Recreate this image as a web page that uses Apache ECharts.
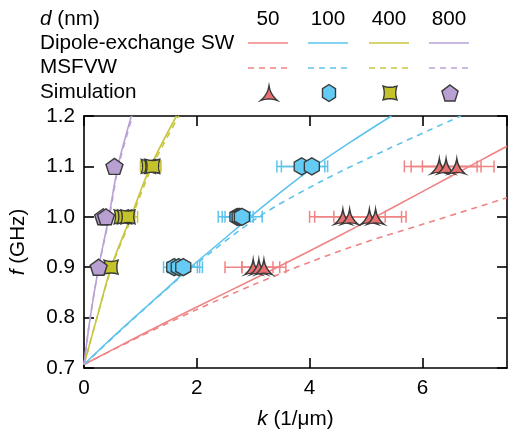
<!DOCTYPE html>
<html><head><meta charset="utf-8">
<script src="https://cdn.jsdelivr.net/npm/echarts@6/dist/echarts.min.js"></script>
<style>html,body{margin:0;padding:0;background:#fff}#c{width:508px;height:435px}</style>
</head><body><div id="c"></div>
<script>
// ---------- data ----------
const thickness = ['50', '100', '400', '800'];
const rowLabels = ['Dipole-exchange SW', 'MSFVW', 'Simulation'];
const yTicks = [0.7, 0.8, 0.9, 1.0, 1.1, 1.2];

// Dipole-exchange SW (solid)  [k (1/um), f (GHz)]
const dsw50 = [[0,0.707],[1,0.765],[2,0.821],[3,0.876],[4,0.932],[5,0.99],[6,1.05],[7,1.11],[7.5,1.14]];
const dsw100 = [[0,0.707],[0.45,0.755],[0.9,0.801],[1.4,0.851],[1.89,0.9],[2.4,0.948],[2.95,1.0],[3.5,1.05],[4.09,1.1],[4.75,1.15],[5.45,1.2]];
const dsw400 = [[0,0.707],[0.23,0.8],[0.48,0.9],[0.83,1.0],[1.18,1.1],[1.64,1.2]];
const dsw800 = [[0,0.707],[0.11,0.8],[0.26,0.9],[0.44,1.0],[0.6,1.1],[0.84,1.2]];
// MSFVW (dashed)
const msf50 = [[0,0.707],[1,0.763],[2,0.816],[3,0.865],[4,0.91],[5,0.95],[6,0.985],[7,1.02],[7.5,1.038]];
const msf100 = [[0,0.707],[0.9,0.8],[1.92,0.9],[3.1,1.0],[4.2,1.07],[5.4,1.135],[6.68,1.2]];
const msf400 = [[0,0.707],[0.23,0.8],[0.49,0.9],[0.85,1.0],[1.21,1.1],[1.68,1.2]];
const msf800 = [[0,0.707],[0.11,0.8],[0.26,0.9],[0.45,1.0],[0.61,1.1],[0.86,1.2]];

// Simulation: f, k, k error low, k error high
const sim50F  = [0.9, 0.9, 0.9, 1.0, 1.0, 1.0, 1.0, 1.1, 1.1, 1.1];
const sim50K  = [3.0, 3.1, 3.19, 4.59, 4.71, 5.06, 5.17, 6.3, 6.42, 6.61];
const sim50Lo = [2.5, 2.8, 2.8, 4.0, 4.09, 4.43, 4.71, 5.68, 5.8, 6.0];
const sim50Hi = [3.47, 3.35, 3.58, 5.18, 5.34, 5.71, 5.63, 6.97, 7.04, 7.27];

const sim100F  = [0.9, 0.9, 0.9, 1.0, 1.0, 1.0, 1.1, 1.1];
const sim100K  = [1.6, 1.68, 1.76, 2.72, 2.76, 2.8, 3.86, 4.04];
const sim100Lo = [1.41, 1.48, 1.48, 2.38, 2.45, 2.5, 3.42, 3.5];
const sim100Hi = [2.01, 2.1, 2.05, 2.95, 3.0, 3.16, 4.27, 4.32];

const sim400F  = [0.9, 1.0, 1.0, 1.0, 1.1, 1.1, 1.1];
const sim400K  = [0.48, 0.66, 0.72, 0.78, 1.14, 1.2, 1.22];
const sim400Lo = [0.4, 0.58, 0.6, 0.62, 1.0, 1.05, 1.1];
const sim400Hi = [0.56, 0.85, 0.9, 0.95, 1.3, 1.36, 1.36];

const sim800F  = [0.9, 1.0, 1.0, 1.1];
const sim800K  = [0.26, 0.34, 0.39, 0.54];
const sim800Lo = [0.22, 0.3, 0.34, 0.5];
const sim800Hi = [0.3, 0.38, 0.44, 0.58];

// ---------- styles ----------
const FONT = 'Liberation Sans, Arial, Helvetica, sans-serif';
const FS = 20.7;
const lineColors = ['#f08383', '#5ec3ec', '#c7c63e', '#b9a2d6'];
const fillColors = ['#e86f70', '#63cbf4', '#c4c42a', '#b8a0d2'];
const symPaths = [
  'M50,0 Q58,62 100,100 Q50,80 0,100 Q42,62 50,0 Z',
  'M50,0 L93.3,25 L93.3,75 L50,100 L6.7,75 L6.7,25 Z',
  'M0,0 Q50,18 100,0 Q82,50 100,100 Q50,82 0,100 Q18,50 0,0 Z',
  'M50,0 L97.6,34.5 L79.4,90.5 L20.6,90.5 L2.4,34.5 Z'
];
const symSizes = [[17,15],[15,17],[14,14],[17,16]];

// convert a simple M/L/Q path (0..100 box) into polygon points for the legend icons
function pathToPoints(p, cx, cy, w, h) {
  const tok = p.match(/[MLQZ]|-?[\d.]+/g);
  const pts = []; let i = 0, cur = [0,0], cmd = '';
  const num = () => parseFloat(tok[i++]);
  while (i < tok.length) {
    if (/[MLQZ]/.test(tok[i])) cmd = tok[i++];
    if (cmd === 'Z') break;
    if (cmd === 'M' || cmd === 'L') { cur = [num(), num()]; pts.push(cur); }
    else if (cmd === 'Q') {
      const c = [num(), num()], e = [num(), num()];
      for (let t = 1; t <= 8; t++) {
        const s = t / 8;
        pts.push([(1-s)*(1-s)*cur[0] + 2*(1-s)*s*c[0] + s*s*e[0], (1-s)*(1-s)*cur[1] + 2*(1-s)*s*c[1] + s*s*e[1]]);
      }
      cur = e;
    }
  }
  let minY = Infinity, maxY = -Infinity;
  pts.forEach(q => { minY = Math.min(minY, q[1]); maxY = Math.max(maxY, q[1]); });
  return pts.map(q => [cx - w/2 + q[0]/100*w, cy - h/2 + (q[1]-minY)/(maxY-minY)*h]);
}

const solid = [dsw50, dsw100, dsw400, dsw800];
const dashed = [msf50, msf100, msf400, msf800];
const simF = [sim50F, sim100F, sim400F, sim800F];
const simK = [sim50K, sim100K, sim400K, sim800K];
const simLo = [sim50Lo, sim100Lo, sim400Lo, sim800Lo];
const simHi = [sim50Hi, sim100Hi, sim400Hi, sim800Hi];

const series = [];
for (let i = 0; i < 4; i++) {
  series.push({type:'line', data: solid[i], smooth: 0.3, showSymbol:false, clip:true,
    lineStyle:{color:lineColors[i], width:1.6}, z:2});
  series.push({type:'line', data: dashed[i], smooth: 0.3, showSymbol:false, clip:true,
    lineStyle:{color:lineColors[i], width:1.6, type:[6,5]}, z:2});
}
for (let i = 0; i < 4; i++) {
  const d = simF[i].map((f, j) => [simLo[i][j], simHi[i][j], f]);
  const col = lineColors[i];
  series.push({type:'custom', data:d, encode:{x:[0,1], y:2}, z:3, clip:false,
    renderItem: function (params, api) {
      const y = api.value(2);
      const p1 = api.coord([api.value(0), y]);
      const p2 = api.coord([api.value(1), y]);
      const h = 6;
      const st = {stroke: col, lineWidth: 1.5, fill: null};
      return {type:'group', children:[
        {type:'line', shape:{x1:p1[0], y1:p1[1], x2:p2[0], y2:p2[1]}, style:st},
        {type:'line', shape:{x1:p1[0], y1:p1[1]-h, x2:p1[0], y2:p1[1]+h}, style:st},
        {type:'line', shape:{x1:p2[0], y1:p2[1]-h, x2:p2[0], y2:p2[1]+h}, style:st}
      ]};
    }});
}
for (let i = 0; i < 4; i++) {
  const d = simF[i].map((f, j) => [simK[i][j], f]);
  series.push({type:'scatter', data:d, symbol:'path://' + symPaths[i], symbolSize:symSizes[i],
    z:4, itemStyle:{color:fillColors[i], borderColor:'#3a3a3a', borderWidth:1.4, opacity:1}});
}

// ---------- legend (graphic) ----------
const graphic = [];
const txt = (text, x, y, align) => ({type:'text', x:x, y:y, style:{text:text, fill:'#000',
  font: FS + 'px ' + FONT, fontSize: FS, fontFamily: FONT,
  align: align || 'left', verticalAlign:'middle', textAlign: align || 'left', textVerticalAlign:'middle',
  rich:{i:{fontStyle:'italic', fontSize:FS, fontFamily:FONT, fill:'#000'}}}});
graphic.push(txt('{i|d} (nm)', 40, 19));
const rowY = [43, 67, 92];
rowLabels.forEach((t, r) => graphic.push(txt(t, 40, rowY[r])));
const colX = [268, 328, 389, 449];
thickness.forEach((t, i) => {
  graphic.push(txt(t, colX[i], 19, 'center'));
  graphic.push({type:'line', shape:{x1:colX[i]-20, y1:rowY[0], x2:colX[i]+20, y2:rowY[0]},
    style:{stroke:lineColors[i], lineWidth:1.6}});
  graphic.push({type:'line', shape:{x1:colX[i]-20, y1:rowY[1]+1, x2:colX[i]+20, y2:rowY[1]+1},
    style:{stroke:lineColors[i], lineWidth:1.6, lineDash:[6,5]}});
  const s = symSizes[i];
  graphic.push({type:'polygon', shape:{points: pathToPoints(symPaths[i], colX[i]+1, rowY[2]+1, s[0], s[1])},
    style:{fill:fillColors[i], stroke:'#3a3a3a', lineWidth:1.4}});
});

// ---------- axes ----------
const axLine = {show:true, onZero:false, lineStyle:{color:'#000', width:1.6}};
const axTick = {show:true, inside:true, length:10, lineStyle:{color:'#000', width:1.6}};
const lbl = {fontSize:FS, color:'#000', fontFamily:FONT};
const option = {
  animation:false,
  backgroundColor:'#fff',
  grid:{left:83, right:1, top:116, bottom:65, containLabel:false},
  xAxis:[
    {type:'value', min:0, max:7.5, interval:2, position:'bottom', axisLine:axLine, axisTick:axTick,
     axisLabel:Object.assign({margin:10, showMaxLabel:false}, lbl), splitLine:{show:false},
     name:'{i|k} (1/μm)', nameLocation:'middle', nameGap:41,
     nameTextStyle:{fontSize:FS, color:'#000', fontFamily:FONT, rich:{i:{fontStyle:'italic', fontSize:FS, fontFamily:FONT, color:'#000'}}}},
    {type:'value', min:0, max:7.5, interval:2, position:'top', axisLine:axLine, axisTick:axTick,
     axisLabel:{show:false}, splitLine:{show:false}}
  ],
  yAxis:[
    {type:'value', min:0.7, max:1.2, interval:0.1, position:'left', axisLine:axLine, axisTick:axTick,
     axisLabel:Object.assign({margin:9, formatter: v => { const t = yTicks.find(t => Math.abs(t - v) < 1e-6); return (t === undefined ? v : t).toFixed(1); }}, lbl), splitLine:{show:false},
     name:'{i|f} (GHz)', nameLocation:'middle', nameGap:55, nameRotate:90,
     nameTextStyle:{fontSize:FS, color:'#000', fontFamily:FONT, rich:{i:{fontStyle:'italic', fontSize:FS, fontFamily:FONT, color:'#000'}}}},
    {type:'value', min:0.7, max:1.2, interval:0.1, position:'right', axisLine:axLine, axisTick:axTick,
     axisLabel:{show:false}, splitLine:{show:false}}
  ],
  graphic: graphic,
  series: series
};
const chart = echarts.init(document.getElementById('c'), null, {renderer:'canvas'});
chart.setOption(option);
</script>
</body></html>
